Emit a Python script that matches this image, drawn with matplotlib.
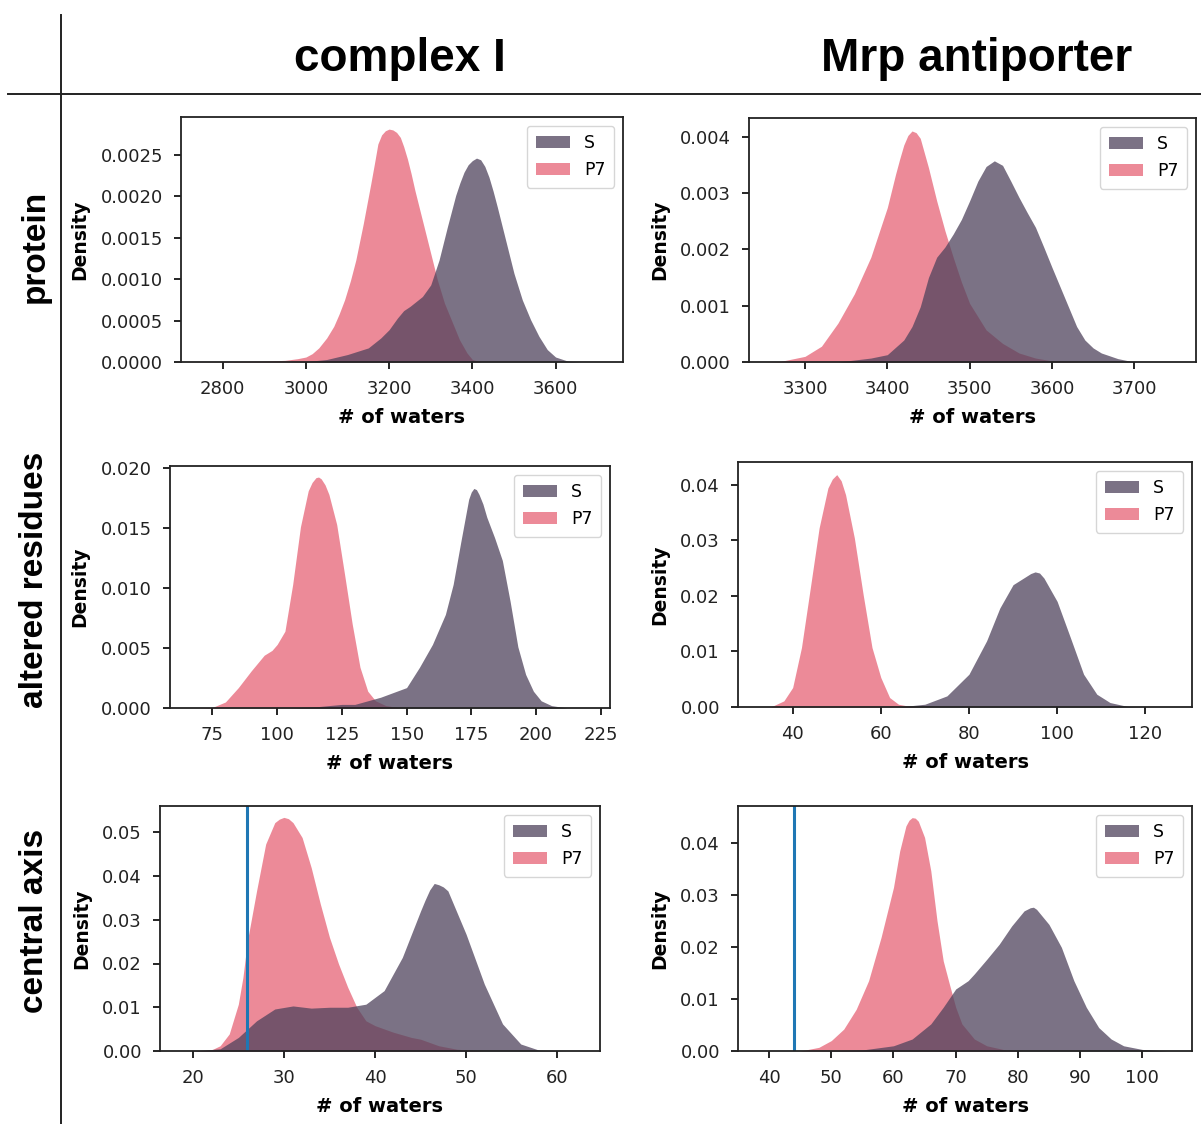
import matplotlib
matplotlib.use("Agg")
import matplotlib.pyplot as plt
from matplotlib.patches import Patch
from matplotlib.lines import Line2D
from matplotlib.ticker import FormatStrFormatter

# ---- data (density curves, # of waters) ----
# protein, complex I
prot_c1_p7_x = [2700, 2800, 2900, 2950, 2980, 3000, 3015, 3031, 3050, 3067, 3080, 3093, 3107, 3120,
                3138, 3156, 3165, 3173, 3182, 3191, 3200, 3209, 3218, 3227, 3235, 3244, 3253, 3262,
                3280, 3298, 3316, 3333, 3351, 3369, 3387, 3400, 3422, 3450]
prot_c1_p7_y = [0, 0.000004, 0.00001, 0.00002, 0.00004, 0.00006, 0.0001, 0.00017, 0.00029, 0.00043,
                0.00058, 0.00075, 0.00098, 0.00123, 0.00167, 0.00215, 0.0024, 0.00263, 0.00274,
                0.00279, 0.00281, 0.0028, 0.00277, 0.00271, 0.0026, 0.00245, 0.00227, 0.00207,
                0.00171, 0.00135, 0.00099, 0.00071, 0.00049, 0.00027, 0.00011, 0.00003, 0.0, 0.0]
prot_c1_s_x = [2950, 3000, 3050, 3100, 3150, 3180, 3200, 3220, 3235, 3250, 3280, 3300, 3320, 3340,
               3360, 3370, 3380, 3390, 3400, 3410, 3420, 3430, 3440, 3450, 3460, 3480, 3500, 3520,
               3540, 3560, 3580, 3600, 3630, 3660]
prot_c1_s_y = [0, 0.000005, 0.00003, 0.00009, 0.00017, 0.00029, 0.00039, 0.00053, 0.00062, 0.00067,
               0.00079, 0.00093, 0.00123, 0.00163, 0.00201, 0.00216, 0.00229, 0.00238, 0.00243,
               0.00246, 0.00244, 0.00236, 0.00223, 0.00206, 0.00187, 0.00147, 0.00107, 0.00075,
               0.00051, 0.00031, 0.00015, 0.00006, 0.00001, 0]

# protein, Mrp antiporter
prot_mrp_p7_x = [3250, 3270, 3300, 3320, 3340, 3360, 3380, 3400, 3410, 3415, 3420, 3425, 3430, 3435,
                 3440, 3450, 3460, 3470, 3480, 3490, 3500, 3520, 3540, 3560, 3580, 3600, 3640]
prot_mrp_p7_y = [0, 0.00001, 0.0001, 0.00028, 0.00069, 0.00121, 0.00186, 0.00274, 0.00333, 0.0036,
                 0.00385, 0.00402, 0.0041, 0.00407, 0.00397, 0.00345, 0.00286, 0.00233, 0.00186,
                 0.00142, 0.00104, 0.00057, 0.00033, 0.00016, 0.00007, 0.00002, 0]
prot_mrp_s_x = [3340, 3380, 3400, 3420, 3430, 3440, 3450, 3460, 3470, 3480, 3490, 3500, 3510, 3520,
                3530, 3540, 3550, 3560, 3570, 3580, 3590, 3600, 3610, 3620, 3630, 3640, 3650, 3660,
                3680, 3700]
prot_mrp_s_y = [0, 0.00007, 0.00013, 0.00039, 0.00063, 0.00098, 0.0015, 0.00186, 0.00204, 0.00227,
                0.00253, 0.00286, 0.00321, 0.00347, 0.00357, 0.00349, 0.00321, 0.00292, 0.00265,
                0.00239, 0.00204, 0.00168, 0.00133, 0.00098, 0.00063, 0.00039, 0.00025, 0.00016,
                0.00006, 0]

# altered residues, complex I
alt_c1_p7_x = [70, 75, 80, 85, 90, 95, 98, 100, 103, 106, 109, 112, 113.5, 115, 116, 117, 118.5, 120,
               123, 126, 129, 132, 135, 138, 142, 148]
alt_c1_p7_y = [0, 0.00005, 0.0005, 0.0017, 0.0031, 0.0044, 0.0048, 0.0053, 0.0064, 0.0103, 0.0151,
               0.0181, 0.0188, 0.0192, 0.01925, 0.0191, 0.0186, 0.0178, 0.0153, 0.0112, 0.007,
               0.0034, 0.0014, 0.0006, 0.0002, 0]
alt_c1_s_x = [105, 115, 120, 125, 130, 135, 140, 145, 150, 155, 160, 165, 168, 171, 174, 175, 176,
              177, 178, 179.5, 181, 184, 187, 190, 193, 196, 199, 202, 206, 212]
alt_c1_s_y = [0, 0.0001, 0.0002, 0.0003, 0.0003, 0.0006, 0.0009, 0.0013, 0.0017, 0.0034, 0.0053,
              0.0078, 0.0103, 0.0139, 0.0174, 0.018, 0.0183, 0.0182, 0.0178, 0.017, 0.0159, 0.0142,
              0.0123, 0.0089, 0.0051, 0.0028, 0.0014, 0.0006, 0.0002, 0]

# altered residues, Mrp antiporter
alt_mrp_p7_x = [35, 38, 40, 42, 44, 46, 48, 49, 50, 51, 52, 54, 56, 58, 60, 62, 64, 66, 68]
alt_mrp_p7_y = [0, 0.0011, 0.0035, 0.0107, 0.0214, 0.0322, 0.0394, 0.041, 0.0418, 0.0407, 0.0382,
                0.0304, 0.0202, 0.0107, 0.0053, 0.0017, 0.0005, 0.0002, 0]
alt_mrp_s_x = [64, 70, 75, 80, 84, 87, 90, 93, 94, 95, 96, 97, 100, 103, 106, 109, 112, 116, 120]
alt_mrp_s_y = [0, 0.0005, 0.002, 0.0059, 0.0119, 0.0178, 0.022, 0.0235, 0.024, 0.0243, 0.0241,
               0.0232, 0.019, 0.0125, 0.0059, 0.0023, 0.0008, 0.0001, 0]

# central axis, complex I
cen_c1_p7_x = [20, 22, 23, 24, 25, 25.5, 26, 27, 28, 29, 29.5, 30, 30.5, 31, 32, 33, 34, 35, 36, 37,
               38, 39, 40, 42, 44, 45, 47, 49, 52]
cen_c1_p7_y = [0, 0.0002, 0.0012, 0.0039, 0.0107, 0.0168, 0.0252, 0.0366, 0.0473, 0.0522, 0.053,
               0.0534, 0.0531, 0.0522, 0.0488, 0.0419, 0.0336, 0.026, 0.0199, 0.0146, 0.01, 0.0069,
               0.0058, 0.0043, 0.0031, 0.0027, 0.0012, 0.0004, 0]
cen_c1_s_x = [20, 23, 25, 27, 29, 31, 33, 35, 37, 39, 41, 43, 45, 45.5, 46, 46.5, 47, 47.5, 48, 50,
              52, 54, 56, 58, 61]
cen_c1_s_y = [0, 0.0005, 0.0031, 0.0069, 0.0096, 0.0103, 0.0098, 0.01, 0.01, 0.0107, 0.0138, 0.0214,
              0.032, 0.0345, 0.0368, 0.0383, 0.038, 0.0375, 0.0366, 0.0267, 0.0153, 0.0062, 0.0016,
              0.0002, 0]

# central axis, Mrp antiporter
cen_mrp_p7_x = [45, 48, 50, 52, 54, 56, 58, 60, 61, 62, 62.5, 63, 63.5, 64, 65, 66, 67, 68, 69, 70,
                71, 73, 75, 78, 81]
cen_mrp_p7_y = [0, 0.0007, 0.002, 0.0042, 0.008, 0.0135, 0.0218, 0.0314, 0.0384, 0.0432, 0.0443,
                0.0448, 0.0447, 0.0441, 0.041, 0.0346, 0.025, 0.0173, 0.0128, 0.0084, 0.0052,
                0.0023, 0.001, 0.0002, 0]
cen_mrp_s_x = [48, 55, 60, 63, 66, 68, 70, 72, 73, 75, 77, 79, 81, 82, 82.5, 83, 85, 87, 89, 91, 93,
               95, 97, 100, 104]
cen_mrp_s_y = [0, 0.0002, 0.001, 0.0023, 0.0052, 0.0084, 0.0119, 0.0135, 0.0148, 0.0176, 0.0205,
               0.024, 0.0269, 0.0275, 0.0276, 0.0272, 0.0243, 0.0199, 0.0135, 0.0084, 0.0045,
               0.0023, 0.001, 0.0003, 0]

# reference lines (blue verticals)
cen_c1_ref = 26
cen_mrp_ref = 44

col_titles = ["complex I", "Mrp antiporter"]
row_titles = ["protein", "altered residues", "central axis"]

S_COLOR = "#4f435c"
P7_COLOR = "#e66376"
ALPHA = 0.75

W, H = 1201, 1124
fig = plt.figure(figsize=(W / 100, H / 100), dpi=100)


def add_ax(left, right, top, bottom):
    return fig.add_axes([left / W, 1 - bottom / H, (right - left) / W, (bottom - top) / H])


def panel(ax, s_x, s_y, p_x, p_y, xlim, ylim, xticks, yticks, fmt, ref=None):
    ax.fill_between(p_x, 0, p_y, color=P7_COLOR, alpha=ALPHA, lw=0)
    ax.fill_between(s_x, 0, s_y, color=S_COLOR, alpha=ALPHA, lw=0)
    if ref is not None:
        ax.axvline(ref, color="#1f77b4", lw=2.2)
    ax.set_xlim(*xlim)
    ax.set_ylim(*ylim)
    ax.set_xticks(xticks)
    ax.set_yticks(yticks)
    ax.yaxis.set_major_formatter(FormatStrFormatter(fmt))
    ax.tick_params(labelsize=13, labelcolor="#222222", width=1.2, length=5, pad=8)
    for sp in ax.spines.values():
        sp.set_linewidth(1.3)
        sp.set_color("#222222")
    ax.set_xlabel("# of waters", fontsize=14, fontweight="bold", labelpad=7)
    ax.set_ylabel("Density", fontsize=13.5, fontweight="bold", labelpad=8)
    handles = [Patch(facecolor=S_COLOR, alpha=ALPHA, lw=0, label="S"),
               Patch(facecolor=P7_COLOR, alpha=ALPHA, lw=0, label="P7")]
    ax.legend(handles=handles, loc="upper right", fontsize=12.5, borderpad=0.5)


ax = add_ax(181, 623, 117, 362)
panel(ax, prot_c1_s_x, prot_c1_s_y, prot_c1_p7_x, prot_c1_p7_y, (2700, 3762), (0, 0.002956),
      [2800, 3000, 3200, 3400, 3600], [0, 0.0005, 0.0010, 0.0015, 0.0020, 0.0025], "%.4f")

ax = add_ax(749, 1196, 118, 362)
panel(ax, prot_mrp_s_x, prot_mrp_s_y, prot_mrp_p7_x, prot_mrp_p7_y, (3232, 3775), (0, 0.00433),
      [3300, 3400, 3500, 3600, 3700], [0, 0.001, 0.002, 0.003, 0.004], "%.3f")

ax = add_ax(170, 610, 466, 708)
panel(ax, alt_c1_s_x, alt_c1_s_y, alt_c1_p7_x, alt_c1_p7_y, (58.6, 228.6), (0, 0.02017),
      [75, 100, 125, 150, 175, 200, 225], [0, 0.005, 0.010, 0.015, 0.020], "%.3f")

ax = add_ax(738, 1192, 462, 707)
panel(ax, alt_mrp_s_x, alt_mrp_s_y, alt_mrp_p7_x, alt_mrp_p7_y, (27.6, 130.6), (0, 0.04407),
      [40, 60, 80, 100, 120], [0, 0.01, 0.02, 0.03, 0.04], "%.2f")

ax = add_ax(160, 600, 806, 1051)
panel(ax, cen_c1_s_x, cen_c1_s_y, cen_c1_p7_x, cen_c1_p7_y, (16.4, 64.7), (0, 0.0560),
      [20, 30, 40, 50, 60], [0, 0.01, 0.02, 0.03, 0.04, 0.05], "%.2f", ref=cen_c1_ref)

ax = add_ax(738, 1192, 806, 1051)
panel(ax, cen_mrp_s_x, cen_mrp_s_y, cen_mrp_p7_x, cen_mrp_p7_y, (35, 108), (0, 0.04703),
      [40, 50, 60, 70, 80, 90, 100], [0, 0.01, 0.02, 0.03, 0.04], "%.2f", ref=cen_mrp_ref)

# grid of headers
title_font = dict(family="Liberation Sans", fontweight="bold", color="black")
for x, t in zip([400, 977], col_titles):
    fig.text(x / W, 1 - 71 / H, t, ha="center", va="baseline", fontsize=33, **title_font)
for y, t in zip([246, 580, 921], row_titles):
    fig.text(35 / W, 1 - y / H, t, ha="center", va="center", rotation=90, fontsize=24, **title_font)

fig.add_artist(Line2D([8 / W, 1], [1 - 94 / H, 1 - 94 / H], color="#222222", lw=1.4))
fig.add_artist(Line2D([61 / W, 61 / W], [1 - 15 / H, 0], color="#222222", lw=1.4))

fig.savefig("out.png", dpi=100)
